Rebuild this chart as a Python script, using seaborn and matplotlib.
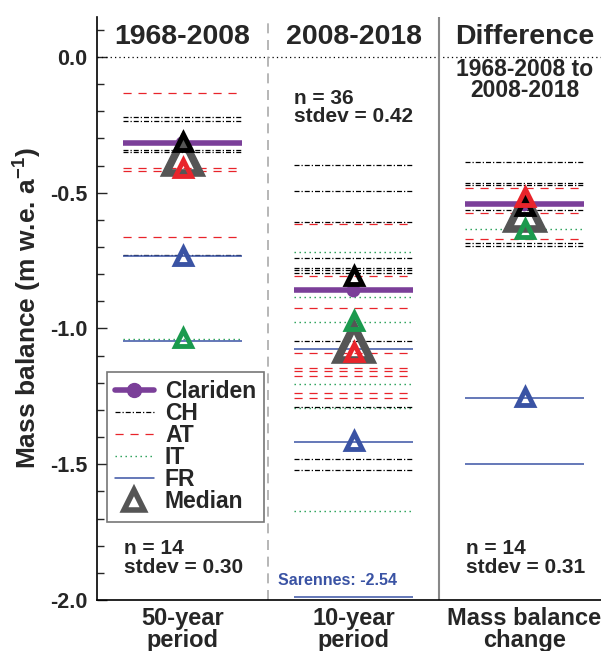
import numpy as np
import pandas as pd
import matplotlib
matplotlib.use("Agg")
import matplotlib.pyplot as plt
import seaborn as sns
from matplotlib.lines import Line2D

# ---------------- data ----------------
periods = ["50-year\nperiod", "10-year\nperiod", "Mass balance\nchange"]
titles = ["1968-2008", "2008-2018", "Difference"]
n_vals = [14, 36, 14]
stdev_vals = [0.30, 0.42, 0.31]

ch_p1 = [-0.220, -0.236, -0.343, -0.352, -0.730]
at_p1 = [-0.134, -0.410, -0.420, -0.662]
it_p1 = [-1.039]
fr_p1 = [-0.733, -1.048]

ch_p2 = [-0.398, -0.494, -0.609, -0.739, -0.776, -0.785, -0.794, -1.048,
         -1.288, -1.481, -1.521]
at_p2 = [-0.615, -0.807, -0.926, -1.089, -1.147, -1.155, -1.175, -1.236, -1.257]
it_p2 = [-0.720, -0.885, -0.977, -1.204, -1.292, -1.671]
fr_p2 = [-1.075, -1.417, -2.54]

ch_p3 = [-0.388, -0.463, -0.471, -0.564, -0.686, -0.696]
at_p3 = [-0.484, -0.575, -0.672]
it_p3 = [-0.635]
fr_p3 = [-1.257, -1.499]

clariden = [-0.318, -0.860, -0.543]
med_all = [-0.365, -1.053, -0.571]
med_ch = [-0.313, -0.807, -0.550]
med_at = [-0.409, -1.087, -0.515]
med_it = [-1.035, -0.972, -0.632]
med_fr = [-0.733, -1.416, -1.254]

sarennes_label = "Sarennes: -2.54"

# ---------------- style ----------------
sns.set_theme(style="white")
plt.rcParams["font.family"] = ["Liberation Sans", "DejaVu Sans"]
plt.rcParams["font.weight"] = "bold"
plt.rcParams["axes.unicode_minus"] = False
plt.rcParams["mathtext.fontset"] = "custom"
plt.rcParams["mathtext.bf"] = "Liberation Sans:bold"
plt.rcParams["mathtext.rm"] = "Liberation Sans:bold"
plt.rcParams["mathtext.default"] = "bf"

C_PURPLE = "#7B3F99"
C_RED = "#E8242B"
C_GREEN = "#1B9A4E"
C_BLUE = "#3A53A4"
C_GRAY = "#555555"

styles = {
    "CH": dict(color="black", ls=(0, (4, 1.6, 1, 1.6)), lw=0.9),
    "AT": dict(color=C_RED, ls=(0, (6.5, 5.5)), lw=0.9),
    "IT": dict(color=C_GREEN, ls=(0, (1, 2.6)), lw=1.0),
    "FR": dict(color=C_BLUE, ls="-", lw=1.1),
}

rows = []
for p, groups in enumerate([
    dict(CH=ch_p1, AT=at_p1, IT=it_p1, FR=fr_p1),
    dict(CH=ch_p2, AT=at_p2, IT=it_p2, FR=fr_p2),
    dict(CH=ch_p3, AT=at_p3, IT=it_p3, FR=fr_p3),
]):
    for g, vals in groups.items():
        for v in vals:
            rows.append(dict(period=p, group=g, value=v))
df = pd.DataFrame(rows)

YMIN, YMAX = -2.0, 0.147
HALF = 0.35

fig = plt.figure(figsize=(6.01, 6.51), dpi=100)
ax = fig.add_axes([97 / 601, 1 - 600 / 651, 504 / 601, 583 / 651])

# horizontal glacier lines
for g in ["AT", "IT", "CH", "FR"]:
    sub = df[df.group == g]
    yv = np.maximum(sub.value.values, YMIN + 0.012)
    ax.hlines(yv, sub.period.values - HALF, sub.period.values + HALF, **styles[g], zorder=2)

# Clariden
pos = np.arange(3)
ax.hlines(clariden, pos - HALF, pos + HALF, color=C_PURPLE, lw=4, zorder=3)
sns.scatterplot(x=pos, y=clariden, color=C_PURPLE, s=100, edgecolor="none", ax=ax, zorder=4, legend=False)

# medians
ax.plot(pos, med_all, ls="none", marker="^", ms=24, mew=5.5, mfc="none", mec=C_GRAY, zorder=5)
for med, c in [(med_ch, "black"), (med_at, C_RED), (med_it, C_GREEN), (med_fr, C_BLUE)]:
    ax.plot(pos, med, ls="none", marker="^", ms=12, mew=3.5, mfc="none", mec=c, zorder=6)

# reference lines
ax.axhline(0, color="black", ls=(0, (1, 2.5)), lw=0.9, zorder=1)
ax.axvline(0.5, color="#AAAAAA", ls=(0, (6, 4)), lw=1.2, zorder=1)
ax.axvline(1.5, color="#888888", lw=1.5, zorder=1)

# texts
for i, t in enumerate(titles):
    ax.text(i, 0.074, t, ha="center", va="center", fontsize=20.5, fontweight="bold")
ax.text(2, -0.085, "1968-2008 to\n2008-2018", ha="center", va="center",
        fontsize=16.5, fontweight="bold", linespacing=0.9)
stat_pos = [(-0.345, -1.845), (0.649, -0.186), (1.655, -1.845)]
for (x, y), n, s in zip(stat_pos, n_vals, stdev_vals):
    ax.text(x, y, f"n = {n}\nstdev = {s:.2f}", ha="left", va="center",
            fontsize=15, fontweight="bold", linespacing=0.95)
ax.text(0.556, -1.93, sarennes_label, ha="left", va="center", color=C_BLUE,
        fontsize=11.5, fontweight="bold")

# axes
ax.set_xlim(-0.5, 2.447)
ax.set_ylim(YMIN, YMAX)
ax.set_xticks(pos)
ax.set_xticklabels(periods, fontsize=17, fontweight="bold", linespacing=0.95)
ax.tick_params(axis="x", length=0, pad=5)
ax.set_yticks(np.arange(-2.0, 0.01, 0.5))
ax.set_yticklabels([f"{v:.1f}" for v in np.arange(-2.0, 0.01, 0.5)], fontsize=15.5, fontweight="bold")
ax.set_yticks(np.arange(-2.0, 0.15, 0.1), minor=True)
ax.tick_params(axis="y", which="major", direction="in", length=7, width=1, left=True, pad=7)
ax.tick_params(axis="y", which="minor", direction="in", length=5, width=1, left=True)
for s in ["top", "right"]:
    ax.spines[s].set_visible(False)
for s in ["left", "bottom"]:
    ax.spines[s].set_color("black")
    ax.spines[s].set_linewidth(1.2)
ax.set_ylabel("Mass balance (m w.e. a$^{-1}$)", fontsize=19, fontweight="bold")
ax.yaxis.set_label_coords(-0.106, 0.5)

# legend
handles = [
    Line2D([], [], color=C_PURPLE, lw=4, marker="o", ms=10),
    Line2D([], [], color="black", lw=0.9, linestyle=styles["CH"]["ls"]),
    Line2D([], [], color=C_RED, lw=0.9, linestyle=styles["AT"]["ls"]),
    Line2D([], [], color=C_GREEN, lw=1.0, linestyle=styles["IT"]["ls"]),
    Line2D([], [], color=C_BLUE, lw=1.1),
    Line2D([], [], ls="none", marker="^", ms=15, mew=4, mfc="none", mec=C_GRAY),
]
labels = ["Clariden", "CH", "AT", "IT", "FR", "Median"]
leg = ax.legend(handles, labels, loc="upper left", bbox_to_anchor=(0.0198, 0.391),
                borderaxespad=0, frameon=True, fancybox=False,
                handlelength=1.7, handletextpad=0.48, labelspacing=-0.04,
                borderpad=0.35, prop=dict(weight="bold", size=16.5))
leg.get_frame().set_edgecolor("#555555")
leg.get_frame().set_linewidth(1.2)

fig.savefig("out.png", dpi=100)
